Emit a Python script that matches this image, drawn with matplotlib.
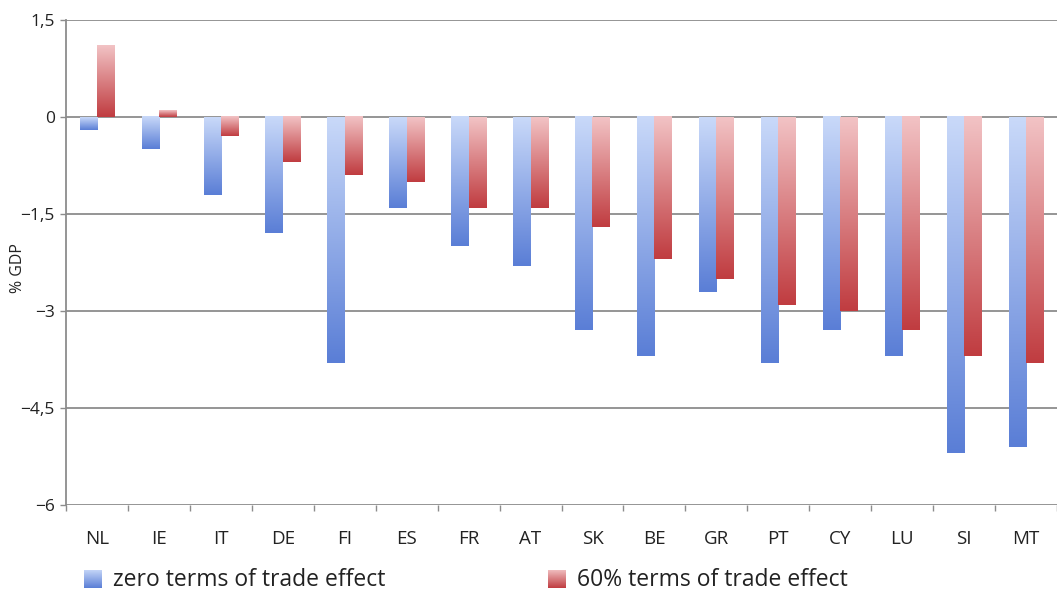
import numpy as np
import matplotlib
matplotlib.use("Agg")
import matplotlib.pyplot as plt
from matplotlib.colors import LinearSegmentedColormap

plt.rcParams['font.family'] = ['Open Sans', 'DejaVu Sans']

countries = ["NL", "IE", "IT", "DE", "FI", "ES", "FR", "AT", "SK", "BE",
             "GR", "PT", "CY", "LU", "SI", "MT"]
zero_tot = [-0.2, -0.5, -1.2, -1.8, -3.8, -1.4, -2.0, -2.3, -3.3, -3.7,
            -2.7, -3.8, -3.3, -3.7, -5.2, -5.1]
sixty_tot = [1.1, 0.1, -0.3, -0.7, -0.9, -1.0, -1.4, -1.4, -1.7, -2.2,
             -2.5, -2.9, -3.0, -3.3, -3.7, -3.8]
series_names = ["zero terms of trade effect", "60% terms of trade effect"]
y_ticks = [1.5, 0, -1.5, -3, -4.5, -6]
y_tick_labels = ["1,5", "0", "\u22121,5", "\u22123", "\u22124,5", "\u22126"]

blue_cmap = LinearSegmentedColormap.from_list("blue", ["#c9d9f9", "#5a7ed6"])
red_cmap = LinearSegmentedColormap.from_list("red", ["#f2c3c5", "#c03c40"])

W, H = 1057, 595
fig = plt.figure(figsize=(W / 100, H / 100), dpi=100)
ax = fig.add_axes([66 / W, 90 / H, (W - 66) / W, 485 / H])

cat_w = 62.2
x_left, x_right = -0.5, -0.5 + (W - 66) / cat_w
y_lo, y_hi = -6, 1.5

# light at the top of each bar, darker towards the bottom
grad = np.linspace(0, 1, 256).reshape(-1, 1)
bar_w = 0.28


def gradient_bar(x_center, value, cmap):
    x0, x1 = x_center - bar_w / 2, x_center + bar_w / 2
    top, bottom = max(value, 0), min(value, 0)
    ax.imshow(grad, cmap=cmap, extent=[x0, x1, bottom, top], aspect="auto",
              origin="upper", interpolation="bilinear", zorder=3)


for i, (a, b) in enumerate(zip(zero_tot, sixty_tot)):
    gradient_bar(i - bar_w / 2, a, blue_cmap)
    gradient_bar(i + bar_w / 2, b, red_cmap)

ax.set_xlim(x_left, x_right)
ax.set_ylim(y_lo, y_hi)

grid_c = "#8c8c8c"
for yv in y_ticks:
    ax.axhline(yv, color=grid_c, lw=1.3, zorder=2)

for s in ["top", "right", "bottom"]:
    ax.spines[s].set_visible(False)
ax.spines["left"].set_color(grid_c)
ax.spines["left"].set_linewidth(1.3)

ax.set_yticks(y_ticks)
ax.set_yticklabels(y_tick_labels, fontsize=12.5, color="#222222")
ax.tick_params(axis="y", length=4, width=1, color=grid_c, pad=4)

ax.set_xticks(np.arange(len(countries)))
ax.set_xticklabels(countries, fontsize=13.5, color="#222222")
ax.set_xticks(np.arange(len(countries) + 1) - 0.5, minor=True)
ax.tick_params(axis="x", which="major", length=0, pad=18)
ax.tick_params(axis="x", which="minor", length=4, width=1, color=grid_c)

fig.text(18 / W, 1 - 268 / H, "% GDP", rotation=90, ha="center", va="center",
         fontsize=11.5, color="#222222")

# legend below the axes
legend_items = [(84, series_names[0], blue_cmap), (548, series_names[1], red_cmap)]
for x_px, label, cmap in legend_items:
    sq = fig.add_axes([x_px / W, 1 - 588 / H, 18 / W, 18 / H])
    sq.imshow(grad, cmap=cmap, aspect="auto", origin="upper",
              interpolation="bilinear")
    sq.set_axis_off()
    fig.text((x_px + 29) / W, 1 - 580 / H, label, ha="left", va="center",
             fontsize=16.5, color="#222222")

fig.savefig("out.png", dpi=100, facecolor="white")
